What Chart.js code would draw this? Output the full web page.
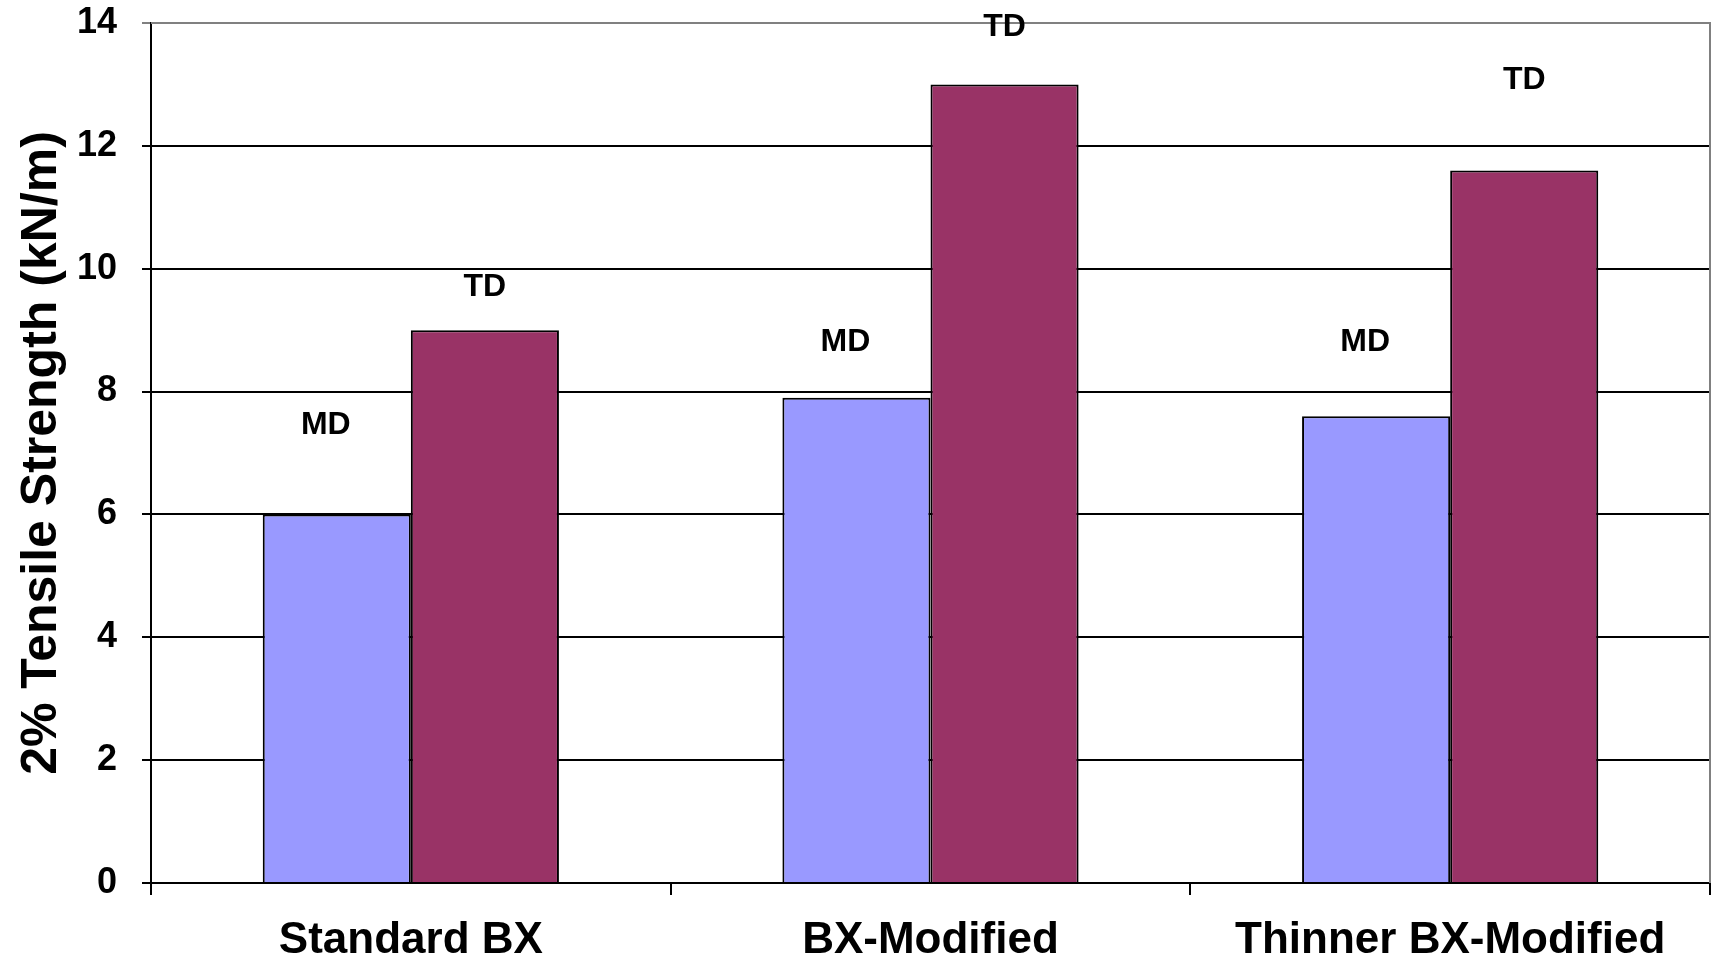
<!DOCTYPE html>
<html>
<head>
<meta charset="utf-8">
<script src="https://cdn.jsdelivr.net/npm/chart.js@4.4.1/dist/chart.umd.min.js"></script>
<style>
  html, body { margin: 0; padding: 0; background: #fff; }
  #wrap { width: 1718px; height: 957px; }
</style>
</head>
<body>
<div id="wrap"><canvas id="strength-chart"></canvas></div>
<script>
var categories = ["Standard BX", "BX-Modified", "Thinner BX-Modified"];
var mdValues = [6.0, 7.9, 7.6];
var tdValues = [9.0, 13.0, 11.6];
// heights (in kN/m) where the MD / TD captions sit
var mdLabelAt = [7.45, 8.8, 8.8];
var tdLabelAt = [9.7, 13.93, 13.07];
var yTicks = [0, 2, 4, 6, 8, 10, 12, 14];

var FONT = "'Liberation Sans', Arial, sans-serif";

// gray frame on top and right of the plot area
var frame = {
  id: "frame",
  beforeDatasetsDraw: function (chart) {
    var a = chart.chartArea, ctx = chart.ctx;
    ctx.save();
    ctx.strokeStyle = "#808080";
    ctx.lineWidth = 2;
    ctx.beginPath();
    ctx.moveTo(a.left, a.top);
    ctx.lineTo(a.right, a.top);
    ctx.lineTo(a.right, a.bottom);
    ctx.stroke();
    ctx.restore();
  }
};

// MD / TD captions over the bars
var captions = {
  id: "captions",
  afterDatasetsDraw: function (chart) {
    var ctx = chart.ctx, y = chart.scales.y;
    var spots = [mdLabelAt, tdLabelAt];
    var nudge = [-11, 0];
    ctx.save();
    ctx.font = "bold 32px " + FONT;
    ctx.fillStyle = "#000";
    ctx.textAlign = "center";
    ctx.textBaseline = "middle";
    chart.data.datasets.forEach(function (ds, d) {
      chart.getDatasetMeta(d).data.forEach(function (bar, i) {
        ctx.fillText(ds.label, bar.x + nudge[d], y.getPixelForValue(spots[d][i]));
      });
    });
    ctx.restore();
  }
};

new Chart(document.getElementById("strength-chart"), {
  type: "bar",
  data: {
    labels: categories,
    datasets: [
      {
        label: "MD",
        data: mdValues,
        backgroundColor: "#9999FF",
        borderColor: "#000",
        borderWidth: 2,
        categoryPercentage: 0.57,
        barPercentage: 1.0
      },
      {
        label: "TD",
        data: tdValues,
        backgroundColor: "#993366",
        borderColor: "#000",
        borderWidth: 2,
        categoryPercentage: 0.57,
        barPercentage: 1.0
      }
    ]
  },
  options: {
    responsive: true,
    maintainAspectRatio: false,
    animation: false,
    layout: { padding: { left: 0, right: 8, top: 23, bottom: 0 } },
    plugins: {
      legend: { display: false },
      tooltip: { enabled: false }
    },
    scales: {
      x: {
        offset: true,
        grid: {
          offset: true,
          drawOnChartArea: false,
          drawTicks: true,
          tickLength: 12,
          color: "#000",
          lineWidth: 2
        },
        border: { color: "#000", width: 2 },
        ticks: {
          color: "#000",
          padding: 19,
          font: { family: FONT, size: 44, weight: "bold" }
        },
        afterFit: function (s) {
          s.height = 74;
          s.paddingLeft = 0;
          s.paddingRight = 0;
        }
      },
      y: {
        min: 0,
        max: 14,
        afterBuildTicks: function (s) {
          s.ticks = yTicks.map(function (v) { return { value: v }; });
        },
        grid: {
          color: function (c) { return c.tick && c.tick.value === 14 ? "#808080" : "#000"; },
          lineWidth: 2,
          tickLength: 9
        },
        border: { color: "#000", width: 2 },
        ticks: {
          color: "#000",
          padding: 25,
          font: { family: FONT, size: 36, weight: "bold" }
        },
        title: {
          display: true,
          text: "2% Tensile Strength (kN/m)",
          color: "#000",
          padding: { top: 12, bottom: 0 },
          font: { family: FONT, size: 50, weight: "bold" }
        },
        afterFit: function (s) {
          s.width = 151;
          s.paddingTop = 0;
          s.paddingBottom = 0;
        }
      }
    }
  },
  plugins: [frame, captions]
});
</script>
</body>
</html>
